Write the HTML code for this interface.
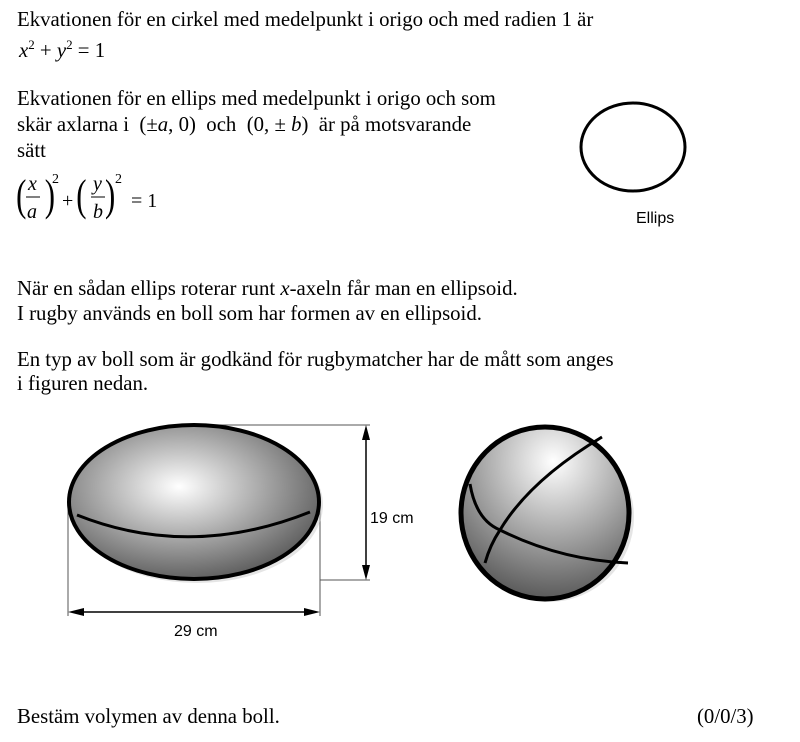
<!DOCTYPE html>
<html><head><meta charset="utf-8"><style>
body{margin:0;width:800px;height:742px;background:#fff;position:relative;overflow:hidden;font-family:"Liberation Serif",serif;font-size:20.8px;color:#000}
.t{position:absolute;white-space:nowrap;line-height:1}
i{font-style:italic}
</style></head><body>
<div class="t" style="left:17px;top:10px">Ekvationen för en cirkel med medelpunkt i origo och med radien 1 är</div>
<div class="t" style="left:19px;top:38px"><i>x</i><sup style="font-size:13px">2</sup> + <i>y</i><sup style="font-size:13px">2</sup> = 1</div>
<div class="t" style="left:17px;top:89px">Ekvationen för en ellips med medelpunkt i origo och som</div>
<div class="t" style="left:17px;top:115px">skär axlarna i &nbsp;(±<i>a</i>, 0)&nbsp; och &nbsp;(0, ± <i>b</i>)&nbsp; är på motsvarande</div>
<div class="t" style="left:17px;top:141px">sätt</div>
<svg style="position:absolute;left:0;top:0" width="800" height="742">
<g font-family="Liberation Serif" font-size="20">
<text x="16" y="210" font-size="44" transform="scale(0.7,1) translate(7,0)">(</text>
<text x="28" y="190" font-style="italic">x</text>
<line x1="26" y1="197" x2="40" y2="197" stroke="#000" stroke-width="1"/>
<text x="27" y="218" font-style="italic">a</text>
<text x="57" y="210" font-size="44" transform="scale(0.7,1) translate(7,0)">)</text>
<text x="52" y="183" font-size="14">2</text>
<text x="62" y="207">+</text>
<text x="106" y="210" font-size="44" transform="scale(0.7,1) translate(3,0)">(</text>
<text x="93" y="190" font-style="italic">y</text>
<line x1="91" y1="197" x2="105" y2="197" stroke="#000" stroke-width="1"/>
<text x="93" y="218" font-style="italic">b</text>
<text x="150" y="210" font-size="44" transform="scale(0.7,1) translate(0,0)">)</text>
<text x="115" y="183" font-size="14">2</text>
<text x="131" y="207">= 1</text>
</g>
<ellipse cx="633" cy="147" rx="52" ry="44" fill="none" stroke="#000" stroke-width="3"/>
<text x="636" y="223" font-family="Liberation Sans" font-size="16">Ellips</text>
<defs>
<radialGradient id="g1" cx="0.44" cy="0.4" r="0.65">
<stop offset="0" stop-color="#fff"/><stop offset="0.5" stop-color="#aaa"/><stop offset="1" stop-color="#555"/>
</radialGradient>
<radialGradient id="g2" cx="0.55" cy="0.2" r="0.85">
<stop offset="0" stop-color="#fff"/><stop offset="0.5" stop-color="#a8a8a8"/><stop offset="1" stop-color="#505050"/>
</radialGradient>
</defs>
<g stroke="#555" stroke-width="1" fill="none">
<line x1="193" y1="425" x2="370" y2="425"/>
<line x1="320" y1="580" x2="370" y2="580"/>
<line x1="68" y1="500" x2="68" y2="616"/>
<line x1="320" y1="500" x2="320" y2="616"/>
</g>
<ellipse cx="197" cy="505" rx="126" ry="78" fill="#ccc" opacity="0.5"/>
<ellipse cx="194" cy="502" rx="125" ry="77" fill="url(#g1)" stroke="#000" stroke-width="4"/>
<path d="M77 515 Q190 560 310 512" fill="none" stroke="#000" stroke-width="3"/>
<g stroke="#000" stroke-width="1.5">
<line x1="366" y1="432" x2="366" y2="573"/>
<line x1="75" y1="612" x2="313" y2="612"/>
</g>
<polygon points="366,425 362,440 370,440"/>
<polygon points="366,580 362,565 370,565"/>
<polygon points="68,612 84,608 84,616"/>
<polygon points="320,612 304,608 304,616"/>
<text x="370" y="523" font-family="Liberation Sans" font-size="16">19 cm</text>
<text x="174" y="636" font-family="Liberation Sans" font-size="16">29 cm</text>
<circle cx="549" cy="517" r="85" fill="#ccc" opacity="0.5"/>
<ellipse cx="545" cy="513" rx="84" ry="86" fill="url(#g2)" stroke="#000" stroke-width="5"/>
<g fill="none" stroke="#000" stroke-width="3">
<path d="M602 437 Q530 480 500 530 Q490 545 485 563"/>
<path d="M470 484 Q476 520 500 530 Q560 560 628 563"/>
</g>
</svg>
<div class="t" style="left:17px;top:279px">När en sådan ellips roterar runt <i>x</i>-axeln får man en ellipsoid.</div>
<div class="t" style="left:17px;top:304px">I rugby används en boll som har formen av en ellipsoid.</div>
<div class="t" style="left:17px;top:350px">En typ av boll som är godkänd för rugbymatcher har de mått som anges</div>
<div class="t" style="left:17px;top:374px">i figuren nedan.</div>
<div class="t" style="left:17px;top:707px">Bestäm volymen av denna boll.</div>
<div class="t" style="left:697px;top:707px">(0/0/3)</div>
</body></html>
